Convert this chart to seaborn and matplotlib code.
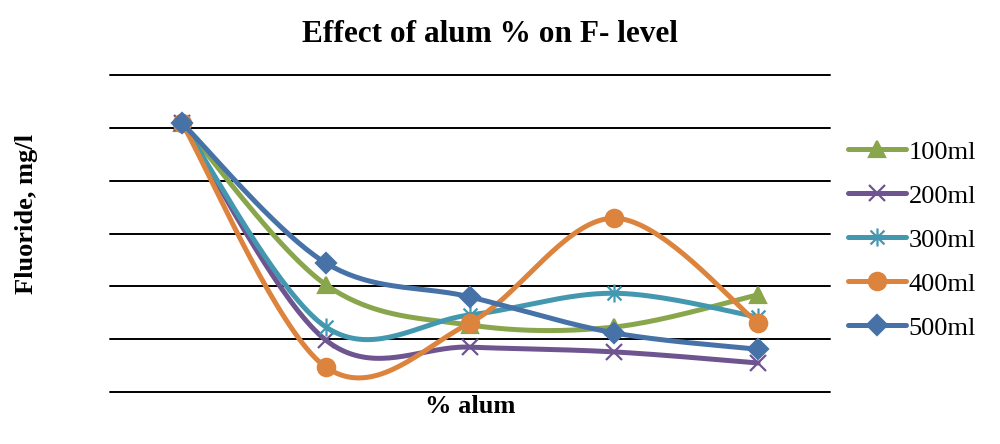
import numpy as np
import pandas as pd
import matplotlib
matplotlib.use('Agg')
import matplotlib.pyplot as plt
from matplotlib.lines import Line2D
from matplotlib.path import Path
import seaborn as sns

# values (gridline units, 0..6)
alum_pts = [1, 2, 3, 4, 5]
series_names = ['100ml', '200ml', '300ml', '400ml', '500ml']
f_100 = [5.09, 2.03, 1.27, 1.23, 1.84]
f_200 = [5.09, 0.98, 0.85, 0.76, 0.55]
f_300 = [5.09, 1.23, 1.46, 1.87, 1.42]
f_400 = [5.09, 0.47, 1.31, 3.29, 1.31]
f_500 = [5.09, 2.44, 1.80, 1.12, 0.81]
all_series = [f_100, f_200, f_300, f_400, f_500]

colors = ['#8AA64C', '#6F5590', '#4398B0', '#DC843D', '#4672A8']

# excel-ish star marker: x plus vertical bar
star = Path([(-1, -1), (1, 1), (-1, 1), (1, -1), (0, -1.3), (0, 1.3)],
            [Path.MOVETO, Path.LINETO, Path.MOVETO, Path.LINETO, Path.MOVETO, Path.LINETO])
markers = ['^', 'x', star, 'o', 'D']
msizes = [12, 12, 13, 12.5, 10.5]


def smooth(x, y, n=40):
    # catmull-rom bezier like excel's "smoothed line"
    x = np.asarray(x, float)
    y = np.asarray(y, float)
    px = np.concatenate([[x[0]], x, [x[-1]]])
    py = np.concatenate([[y[0]], y, [y[-1]]])
    t = np.linspace(0, 1, n)
    xs, ys = [], []
    for i in range(1, len(px) - 2):
        b0 = (px[i], py[i])
        b1 = (px[i] + (px[i + 1] - px[i - 1]) / 6, py[i] + (py[i + 1] - py[i - 1]) / 6)
        b2 = (px[i + 1] - (px[i + 2] - px[i]) / 6, py[i + 1] - (py[i + 2] - py[i]) / 6)
        b3 = (px[i + 1], py[i + 1])
        for k in range(2):
            c = ((1 - t) ** 3 * b0[k] + 3 * (1 - t) ** 2 * t * b1[k]
                 + 3 * (1 - t) * t ** 2 * b2[k] + t ** 3 * b3[k])
            (xs if k == 0 else ys).append(c)
    return np.concatenate(xs), np.concatenate(ys)


rows = []
for name, vals in zip(series_names, all_series):
    sx, sy = smooth(alum_pts, vals)
    rows.append(pd.DataFrame({'x': sx, 'y': sy, 'series': name}))
curves = pd.concat(rows, ignore_index=True)

sns.set_style('white')
plt.rcParams['font.family'] = ['Liberation Serif', 'DejaVu Serif']
plt.rcParams['text.color'] = 'black'
plt.rcParams['axes.labelcolor'] = 'black'

fig = plt.figure(figsize=(10, 4.44), dpi=100)
ax = fig.add_axes([0.11, 0.117, 0.72, 0.714])

for i, name in enumerate(series_names):
    sub = curves[curves['series'] == name]
    sns.lineplot(data=sub, x='x', y='y', sort=False, color=colors[i], lw=3.6,
                 ax=ax, legend=False, zorder=3 + i * 2)
    ax.plot(alum_pts, all_series[i], ls='none', marker=markers[i], ms=msizes[i],
            color=colors[i], mec=colors[i], mew=1.6, zorder=4 + i * 2)

ax.set_xlim(0.5, 5.5)
ax.set_ylim(0, 6)
ax.set_yticks(range(7))
ax.set_xticks([])
ax.set_yticklabels([])
ax.tick_params(left=False, bottom=False)
ax.yaxis.grid(True, color='black', lw=1.4)
for gl in ax.get_ygridlines():
    gl.set_clip_on(False)
for s in ax.spines.values():
    s.set_visible(False)
ax.set_ylabel('')
ax.set_xlabel('% alum', fontsize=19, fontweight='bold', labelpad=2)
fig.text(0.027, 0.517, 'Fluoride, mg/l', rotation=90, ha='center', va='center',
         fontsize=19, fontweight='bold')
fig.text(0.49, 0.922, 'Effect of alum % on F- level', ha='center', va='center',
         fontsize=22.5, fontweight='bold')

handles = [Line2D([], [], color=colors[i], lw=3.6, marker=markers[i], ms=msizes[i],
                  mec=colors[i], mew=1.6) for i in range(5)]
ax.legend(handles, series_names, loc='center left', bbox_to_anchor=(1.01, 0.48),
          frameon=False, fontsize=19, handlelength=2.2, handletextpad=0.1,
          labelspacing=0.78, borderaxespad=0)

fig.savefig('out.png', dpi=100)
